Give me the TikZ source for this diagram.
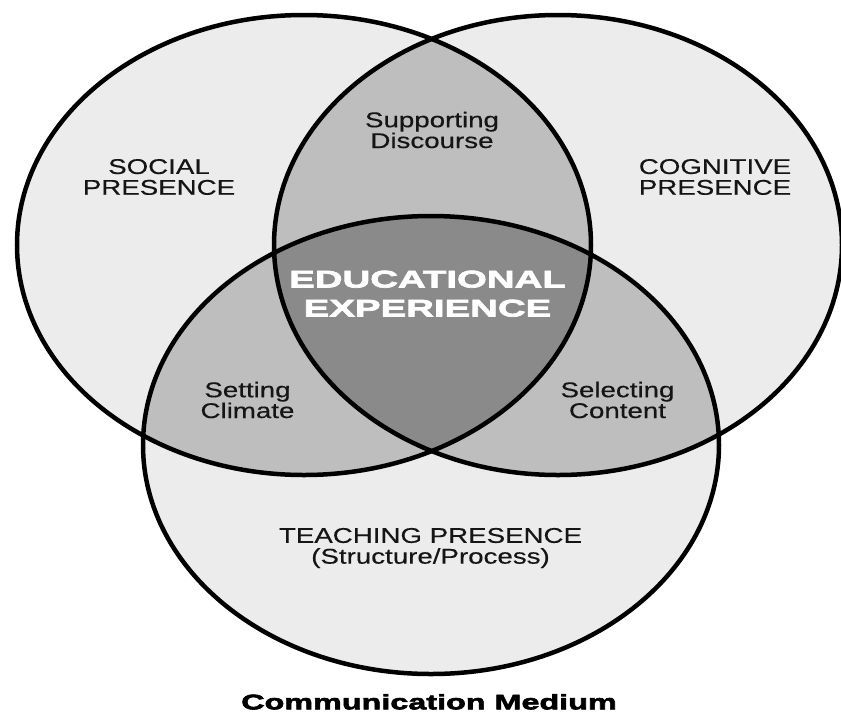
\documentclass[tikz,border=0pt]{standalone}
\usepackage{fontspec}
\setmainfont[FakeStretch=1.3,FakeBold=0.4]{Liberation Sans}
\newfontfamily\corefont[FakeStretch=1.6,FakeBold=3]{Liberation Sans Bold}
\newfontfamily\mediumfont[FakeStretch=1.54,FakeBold=3]{Liberation Sans Bold}
\definecolor{lightfill}{HTML}{ECECEC}
\definecolor{pairfill}{HTML}{BEBEBE}
\definecolor{corefill}{HTML}{8A8A8A}
\definecolor{inkcol}{HTML}{151515}
\tikzset{
  outline/.style={draw=black,line width=4.5pt},
  lbl/.style={inner sep=0pt,align=center,text=inkcol,font=\fontsize{21.3}{20.8}\selectfont},
  corelbl/.style={inner sep=0pt,align=center,text=white,font=\corefont\fontsize{24}{29}\selectfont},
  mediumlbl/.style={inner sep=0pt,text=black,font=\mediumfont\fontsize{21}{21}\selectfont},
}
\begin{document}
\begin{tikzpicture}[x=1pt,y=-1pt]
\useasboundingbox[fill=white] (0,0) rectangle (841,713);
\def\ellL{(304,245) ellipse [x radius=287,y radius=230]}
\def\ellR{(558,245) ellipse [x radius=284,y radius=230]}
\def\ellB{(431,445) ellipse [x radius=288,y radius=229]}
% base fills
\fill[lightfill] \ellL;
\fill[lightfill] \ellR;
\fill[lightfill] \ellB;
% pairwise overlaps
\begin{scope}
  \clip \ellL;
  \fill[pairfill] \ellR;
  \fill[pairfill] \ellB;
\end{scope}
\begin{scope}
  \clip \ellR;
  \fill[pairfill] \ellB;
\end{scope}
% triple overlap
\begin{scope}
  \clip \ellL;
  \clip \ellR;
  \fill[corefill] \ellB;
\end{scope}
% outlines
\draw[outline] \ellL;
\draw[outline] \ellR;
\draw[outline] \ellB;
% labels
\node[lbl] (social) at (159,177) {SOCIAL\\PRESENCE};
\node[lbl] (cognitive) at (715,177) {COGNITIVE\\PRESENCE};
\node[lbl] (discourse) at (432,130) {Supporting\\Discourse};
\node[lbl] (climate) at (247.5,400) {Setting\\Climate};
\node[lbl] (content) at (617.5,400) {Selecting\\Content};
\node[lbl] (teaching) at (430.5,548) {TEACHING PRESENCE\\(Structure/Process)};
\node[corelbl] (core) at (427.5,293.7) {EDUCATIONAL\\EXPERIENCE};
\node[mediumlbl,anchor=base] (medium) at (429,709.3) {Communication Medium};
\end{tikzpicture}
\end{document}
